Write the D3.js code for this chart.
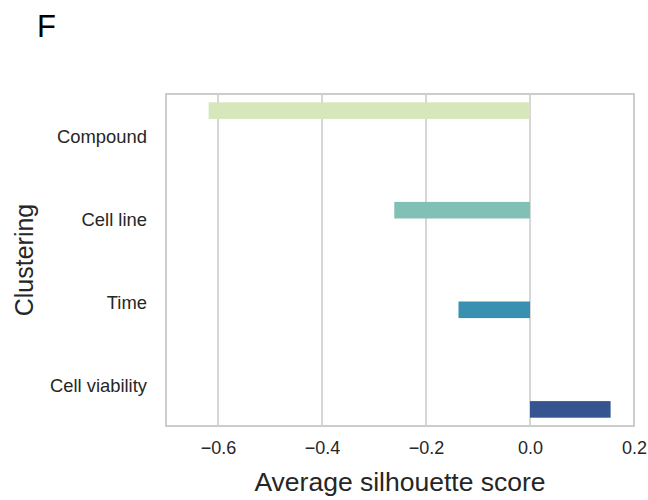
<!DOCTYPE html>
<html>
<head>
<meta charset="utf-8">
<script src="https://cdn.jsdelivr.net/npm/d3@7"></script>
<style>
  html, body { margin: 0; padding: 0; background: #fff; }
  svg { display: block; font-family: "Liberation Sans", Arial, sans-serif; }
</style>
</head>
<body>
<svg id="chart" width="648" height="500"></svg>
<script>
// Average silhouette score per clustering variable
const categories = ["Compound", "Cell line", "Time", "Cell viability"];
const scores = [-0.618, -0.261, -0.1375, 0.155];
const colors = ["#d6e7bc", "#81c0b5", "#3a90b0", "#34558f"];
const xTicks = [-0.6, -0.4, -0.2, 0.0, 0.2];

const W = 648, H = 500;
const margin = { top: 94, right: 14, bottom: 74, left: 166 };
const iw = W - margin.left - margin.right;
const ih = H - margin.top - margin.bottom;
const textColor = "#262626";
const gridColor = "#cccccc";

const svg = d3.select("#chart");
const g = svg.append("g").attr("transform", `translate(${margin.left},${margin.top})`);

const x = d3.scaleLinear().domain([-0.7, 0.2]).range([0, iw]);
const y = d3.scaleBand().domain(categories).range([0, ih]).padding(0);
// each category is also the hue, so bars are dodged inside 80% of the band
const hue = d3.scaleBand().domain(categories)
  .range([y.bandwidth() * 0.1, y.bandwidth() * 0.9]).padding(0);

// vertical grid lines
g.append("g").selectAll("line").data(xTicks).join("line")
  .attr("x1", d => x(d)).attr("x2", d => x(d))
  .attr("y1", 0).attr("y2", ih)
  .attr("stroke", gridColor).attr("stroke-width", 1.6);

// bars
g.append("g").selectAll("rect").data(categories).join("rect")
  .attr("x", (d, i) => x(Math.min(0, scores[i])))
  .attr("width", (d, i) => Math.abs(x(scores[i]) - x(0)))
  .attr("y", d => y(d) + hue(d))
  .attr("height", hue.bandwidth())
  .attr("fill", (d, i) => colors[i]);

// frame
g.append("rect").attr("x", 0).attr("y", 0).attr("width", iw).attr("height", ih)
  .attr("fill", "none").attr("stroke", gridColor).attr("stroke-width", 2);

// x axis
const xAxis = g.append("g").attr("transform", `translate(0,${ih})`)
  .call(d3.axisBottom(x).tickValues(xTicks).tickSize(0).tickPadding(15)
    .tickFormat(d => d3.format(".1f")(d).replace("-", "\u2212")));
xAxis.select(".domain").remove();
xAxis.selectAll("text").attr("font-size", 18).attr("fill", textColor)
  .attr("font-family", "Liberation Sans, Arial, sans-serif");

// y axis
const yAxis = g.append("g").attr("transform", "translate(0,1.5)")
  .call(d3.axisLeft(y).tickSize(0).tickPadding(19));
yAxis.select(".domain").remove();
yAxis.selectAll("text").attr("font-size", 18.4).attr("fill", textColor)
  .attr("font-family", "Liberation Sans, Arial, sans-serif");

// axis titles
svg.append("text")
  .attr("x", margin.left + iw / 2).attr("y", 491)
  .attr("text-anchor", "middle").attr("font-size", 26.5).attr("fill", textColor)
  .text("Average silhouette score");

svg.append("text")
  .attr("transform", `translate(33,${margin.top + ih / 2}) rotate(-90)`)
  .attr("text-anchor", "middle").attr("font-size", 25).attr("fill", textColor)
  .text("Clustering");

// panel letter
svg.append("text")
  .attr("x", 37).attr("y", 37)
  .attr("font-size", 31).attr("fill", "#000")
  .text("F");
</script>
</body>
</html>
